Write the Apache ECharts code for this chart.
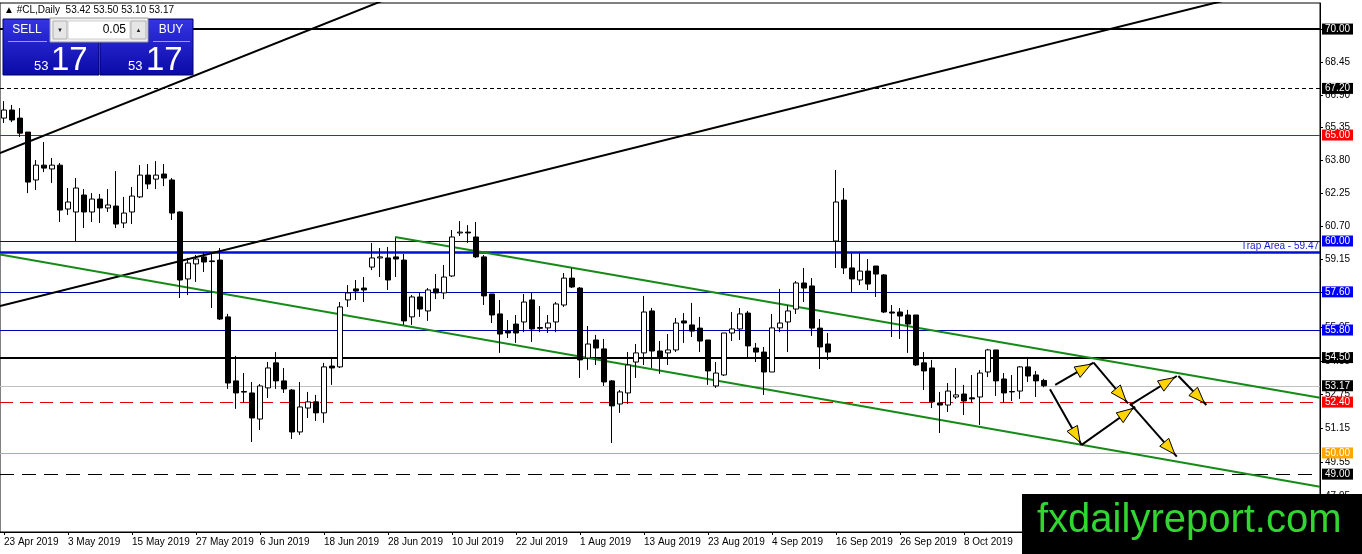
<!DOCTYPE html>
<html>
<head>
<meta charset="utf-8">
<script src="https://cdn.jsdelivr.net/npm/echarts@6.0.0/dist/echarts.min.js"></script>
<style>
html,body{margin:0;padding:0;background:#fff;}
#chart{width:1362px;height:554px;}
</style>
</head>
<body>
<div id="chart"></div>
<script>
// ---------- DATA ----------
const symbolTitle = '#CL,Daily';
const startDate = [2019, 3, 23];   // 23 Apr 2019 (first bar)
const totalSlots = 165;            // bars + empty future space

const opens = [65.80,66.18,65.80,65.14,62.88,63.58,63.40,63.58,61.51,61.37,62.17,61.37,61.98,61.56,61.65,60.85,61.37,62.08,63.11,62.92,
63.16,62.88,61.37,58.21,58.92,59.25,59.06,59.10,56.42,53.40,52.90,52.83,51.60,53.07,54.25,53.40,52.97,50.99,52.12,52.41,
51.89,54.10,54.06,57.22,57.74,57.78,58.77,59.20,59.20,59.25,59.10,56.42,57.36,56.70,57.74,57.55,58.35,60.38,60.42,60.19,
59.25,57.50,56.56,55.75,56.08,56.18,57.22,55.92,55.90,56.18,56.98,58.25,57.78,54.48,55.33,54.91,53.40,52.31,52.83,54.29,
54.72,56.70,54.81,54.72,54.86,56.23,56.04,55.89,55.33,53.16,53.68,55.66,55.85,56.60,54.95,54.76,53.82,55.90,56.18,56.79,
58.02,57.88,55.89,55.14,60.00,61.93,58.73,58.16,58.58,58.82,58.40,56.65,56.65,56.51,56.51,54.25,54.01,52.36,52.26,52.64,
52.78,52.60,52.64,53.82,54.86,53.49,52.90,52.92,54.06,53.68,53.42];
const highs = [66.60,66.42,66.27,65.14,63.82,64.67,63.92,63.68,62.50,62.97,62.45,62.26,62.22,62.45,63.30,62.08,62.55,63.58,63.63,63.77,
63.63,62.97,61.40,59.20,59.34,59.48,59.43,59.67,56.56,54.58,53.77,53.35,53.25,54.29,54.76,54.01,53.02,53.35,52.88,52.74,
54.25,54.43,57.12,57.92,58.16,58.30,59.91,59.67,59.72,60.15,59.39,57.45,57.59,57.78,58.44,58.87,60.52,60.94,60.75,60.90,
59.34,57.50,57.22,56.27,56.51,57.50,57.55,56.93,56.51,57.12,58.49,58.73,57.83,55.99,55.57,55.38,53.44,52.97,54.76,55.14,
57.41,56.84,55.28,55.61,56.37,56.60,57.08,56.42,55.33,54.29,55.66,56.65,56.84,56.70,55.19,55.00,56.56,57.74,56.98,58.11,
58.73,58.25,56.32,55.66,63.35,62.50,59.43,59.43,59.15,58.82,58.44,56.98,56.84,56.75,56.51,54.76,54.39,52.88,53.30,54.01,
53.21,53.68,53.91,54.91,54.86,53.77,53.68,54.10,54.53,53.87,53.50];
const lows = [65.57,65.61,64.91,62.26,62.41,63.25,62.74,60.90,61.23,60.00,60.61,60.90,60.85,61.37,60.61,60.61,60.80,62.03,62.45,62.45,
62.59,60.99,57.31,57.45,58.07,58.54,56.84,56.27,53.02,52.08,52.36,50.52,51.08,52.59,53.02,52.83,50.66,50.85,51.65,51.51,
51.42,53.21,54.01,56.89,57.22,57.12,58.63,58.30,57.69,58.30,56.04,56.04,56.42,56.23,57.26,57.26,58.30,60.24,59.91,59.20,
56.98,56.13,54.72,55.42,55.19,55.70,55.24,55.70,55.66,55.70,56.89,57.78,53.54,53.92,54.15,53.16,50.47,51.89,52.31,53.54,
54.15,54.01,53.73,54.15,54.76,55.19,55.47,54.76,53.21,53.07,53.63,55.28,55.33,54.48,54.29,52.74,53.82,55.70,54.76,56.56,
57.12,55.52,53.96,54.39,58.73,58.44,57.59,57.92,57.69,57.36,56.60,55.47,55.38,54.72,54.10,52.97,52.12,50.94,51.93,52.55,
51.79,52.36,51.32,53.58,52.69,52.36,52.45,52.55,53.35,52.64,53.10];
const closes = [66.18,65.71,65.09,62.78,63.58,63.44,63.58,61.46,61.84,62.50,61.37,61.98,61.56,61.70,60.80,61.32,62.12,63.11,62.69,63.11,
62.97,61.32,58.16,58.96,59.15,59.01,59.03,56.32,53.30,52.83,52.87,51.65,53.16,54.01,53.40,53.02,50.99,52.17,52.41,51.89,
54.06,54.01,56.89,57.55,57.64,57.69,59.20,59.25,58.16,59.15,56.23,57.36,56.79,57.69,57.55,58.30,60.19,60.42,60.38,59.25,
57.41,56.51,55.61,55.66,55.66,57.12,55.85,55.88,56.13,57.03,58.25,57.83,54.39,55.14,54.95,53.35,52.22,52.88,54.15,54.72,
56.65,54.81,54.53,54.86,56.13,56.13,55.75,55.28,53.87,53.77,55.66,55.85,56.56,55.05,54.76,53.82,55.90,56.13,56.70,58.02,
57.78,55.89,55.00,54.76,61.84,58.73,58.21,58.58,57.97,58.44,56.65,56.60,56.46,56.08,54.15,53.87,52.41,52.26,52.92,52.74,
52.45,52.55,53.77,54.86,53.40,52.83,52.88,54.06,53.63,53.40,53.17];

// horizontal price levels (right-hand boxed labels)
const priceLevels = [70.00, 67.20, 65.00, 60.00, 57.60, 55.80, 54.50, 53.17, 52.40, 50.00, 49.00];
const trapLevel = 59.47;
const trapText = 'Trap Area - 59.47';

// y-axis tick labels
const yTickLabels = [70.00, 68.45, 66.90, 65.35, 63.80, 62.25, 60.70, 59.15, 57.60, 55.95, 54.35, 52.75, 51.15, 49.55, 47.95];
const yMin = 46.27, yMax = 71.23;

// trend lines: [barIndex, price] pairs
const blackLine1 = [[-0.5, 64.15], [50, 71.74]];
const blackLine2 = [[-0.5, 56.93], [160, 72.05]];
const greenLower = [[-0.5, 59.36], [164.5, 48.41]];
const greenUpper = [[48.875, 60.19], [164.5, 52.60]];

// scenario arrows: [fromBar, fromPrice, toBar, toPrice]
const arrows = [
  [131.4, 53.21, 136.2, 54.26],
  [136.2, 54.26, 140.5, 52.34],
  [130.75, 53.00, 134.7, 50.38],
  [134.7, 50.38, 141.4, 52.18],
  [140.75, 52.26, 146.6, 53.63],
  [146.8, 53.63, 150.3, 52.26],
  [140.75, 52.34, 146.6, 49.83]
];

// ---------- BUILD ----------
const MONTHS = ['Jan','Feb','Mar','Apr','May','Jun','Jul','Aug','Sep','Oct','Nov','Dec'];
const categories = [];
(function(){
  const d = new Date(Date.UTC(startDate[0], startDate[1], startDate[2]));
  while (categories.length < totalSlots) {
    const wd = d.getUTCDay();
    if (wd !== 0 && wd !== 6) categories.push(d.getUTCDate() + ' ' + MONTHS[d.getUTCMonth()] + ' ' + d.getUTCFullYear());
    d.setUTCDate(d.getUTCDate() + 1);
  }
})();
const candleData = opens.map((o, i) => [o, closes[i], lows[i], highs[i]]);
const last = opens.length - 1;

const levelStyles = [
  {line:'#000000', w:2, t:'solid', box:'#000000'},
  {line:'#000000', w:1, t:[4,3], box:'#000000'},
  {line:'#d80000', w:1, t:'solid', box:'#ff0000'},
  {line:'#0000b4', w:1, t:'solid', box:'#0000ff'},
  {line:'#0000b4', w:1, t:'solid', box:'#0000ff'},
  {line:'#0000b4', w:1, t:'solid', box:'#0000ff'},
  {line:'#000000', w:2, t:'solid', box:'#000000'},
  {line:'#c0c0c0', w:1, t:'solid', box:'#000000'},
  {line:'#e00000', w:1, t:[13,7], box:'#ff0000'},
  {line:'#ffa500', w:1, t:'solid', box:'#ffa500'},
  {line:'#000000', w:1, t:[14,8], box:'#000000'}
];
const FONT = 'Liberation Sans, Arial, sans-serif';

const markData = priceLevels.map((v, i) => ({
  yAxis: v,
  lineStyle: {color: levelStyles[i].line, width: levelStyles[i].w, type: levelStyles[i].t},
  label: {
    show: true, position: 'end', distance: 2,
    formatter: v.toFixed(2),
    color: '#fff', backgroundColor: levelStyles[i].box,
    padding: [1, 3, 0, 3], fontSize: 10, fontFamily: FONT
  }
}));
markData.push({
  yAxis: trapLevel,
  lineStyle: {color: '#0010d0', width: 2.5, type: 'solid'},
  label: {show: true, position: 'insideEndTop', distance: 1, formatter: trapText, color: '#1a1acc', fontSize: 10, fontFamily: FONT}
});

function trend(data, color) {
  return {
    type: 'line', xAxisIndex: 1, yAxisIndex: 0, data: data,
    showSymbol: false, symbol: 'none', clip: true, silent: true,
    lineStyle: {color: color, width: 2}, z: 3, animation: false
  };
}

const blueGrad = {type:'linear', x:0, y:0, x2:0, y2:1, colorStops:[{offset:0,color:'#3434e4'},{offset:1,color:'#0a0aa6'}]};
const t = symbolTitle + '  ' + [opens[last], highs[last], lows[last], closes[last]].map(v => v.toFixed(2)).join(' ');
const bid = closes[last].toFixed(2).split('.');

const graphics = [
  {type:'text', x:4, y:10, z:100, style:{text:'▲ ' + t, fill:'#000', font:'10px ' + FONT, verticalAlign:'middle'}},
  {type:'rect', z:100, shape:{x:3,y:19,width:96,height:56}, style:{fill:blueGrad, stroke:'#00006a', lineWidth:1}},
  {type:'rect', z:100, shape:{x:100,y:19,width:93,height:56}, style:{fill:blueGrad, stroke:'#00006a', lineWidth:1}},
  {type:'line', z:101, shape:{x1:8,y1:41.5,x2:47,y2:41.5}, style:{stroke:'rgba(255,255,255,0.55)', lineWidth:1}},
  {type:'line', z:101, shape:{x1:153,y1:41.5,x2:190,y2:41.5}, style:{stroke:'rgba(255,255,255,0.55)', lineWidth:1}},
  {type:'text', z:101, x:27, y:30, style:{text:'SELL', fill:'#fff', font:'12px ' + FONT, align:'center', verticalAlign:'middle'}},
  {type:'text', z:101, x:171, y:30, style:{text:'BUY', fill:'#fff', font:'12px ' + FONT, align:'center', verticalAlign:'middle'}},
  {type:'rect', z:101, shape:{x:50,y:18,width:98,height:24}, style:{fill:'#f0f0f0', stroke:'#9a9a9a', lineWidth:1}},
  {type:'rect', z:102, shape:{x:53,y:21,width:14,height:18}, style:{fill:'#e6e6e6', stroke:'#b0b0b0', lineWidth:1}},
  {type:'rect', z:102, shape:{x:68,y:21,width:62,height:18}, style:{fill:'#ffffff', stroke:'#d0d0d0', lineWidth:1}},
  {type:'rect', z:102, shape:{x:131,y:21,width:15,height:18}, style:{fill:'#e6e6e6', stroke:'#b0b0b0', lineWidth:1}},
  {type:'text', z:103, x:60, y:30, style:{text:'▼', fill:'#222', font:'6px ' + FONT, align:'center', verticalAlign:'middle'}},
  {type:'text', z:103, x:138.5, y:30, style:{text:'▲', fill:'#222', font:'6px ' + FONT, align:'center', verticalAlign:'middle'}},
  {type:'text', z:103, x:126, y:30, style:{text:'0.05', fill:'#000', font:'12px ' + FONT, align:'right', verticalAlign:'middle'}},
  {type:'text', z:101, x:34, y:73, style:{text:bid[0], fill:'#fff', font:'13px ' + FONT, verticalAlign:'bottom'}},
  {type:'text', z:101, x:51, y:77, style:{text:bid[1], fill:'#fff', font:'33px ' + FONT, verticalAlign:'bottom'}},
  {type:'text', z:101, x:128, y:73, style:{text:bid[0], fill:'#fff', font:'13px ' + FONT, verticalAlign:'bottom'}},
  {type:'text', z:101, x:146, y:77, style:{text:bid[1], fill:'#fff', font:'33px ' + FONT, verticalAlign:'bottom'}},
  {type:'rect', z:100, shape:{x:1022,y:494,width:340,height:60}, style:{fill:'#000'}},
  {type:'text', z:101, x:1037, y:521, style:{text:'fxdailyreport.com', fill:'#31d631', font:'40px ' + FONT, verticalAlign:'middle'}}
];

const chart = echarts.init(document.getElementById('chart'), null, {renderer:'canvas'});
chart.setOption({
  animation: false,
  backgroundColor: '#ffffff',
  grid: {left: 0, right: 42, top: 3, bottom: 22, show: true, borderColor: '#000', borderWidth: 1, backgroundColor: 'transparent'},
  xAxis: [
    {
      type: 'category', data: categories, boundaryGap: true,
      axisLine: {show: true, onZero: false, lineStyle: {color: '#000'}},
      axisTick: {show: true, interval: 7, alignWithLabel: true, length: 3, lineStyle: {color: '#000'}},
      axisLabel: {interval: 7, align: 'left', margin: 5, color: '#000', fontSize: 10, fontFamily: FONT},
      splitLine: {show: false}
    },
    {type: 'value', min: -0.5, max: totalSlots - 0.5, show: false}
  ],
  yAxis: {
    type: 'value', position: 'right', min: yMin, max: yMax, scale: true,
    splitLine: {show: false},
    axisLine: {show: true, onZero: false, lineStyle: {color: '#000'}},
    axisTick: {show: true, length: 3, customValues: yTickLabels, lineStyle: {color: '#000'}},
    axisLabel: {customValues: yTickLabels, formatter: v => v.toFixed(2), color: '#000', fontSize: 10, fontFamily: FONT, margin: 5}
  },
  series: [
    trend(blackLine1, '#000000'),
    trend(blackLine2, '#000000'),
    trend(greenLower, '#168a16'),
    trend(greenUpper, '#168a16'),
    {
      type: 'candlestick', xAxisIndex: 0, yAxisIndex: 0, data: candleData,
      barWidth: 5, z: 5,
      itemStyle: {color: '#ffffff', color0: '#000000', borderColor: '#000000', borderColor0: '#000000', borderWidth: 1},
      markLine: {symbol: 'none', silent: true, animation: false, data: markData, z: 2}
    },
    {
      type: 'custom', xAxisIndex: 1, yAxisIndex: 0, data: arrows, z: 6,
      encode: {x: [0, 2], y: [1, 3]},
      renderItem: function (params, api) {
        const p1 = api.coord([api.value(0), api.value(1)]);
        const p2 = api.coord([api.value(2), api.value(3)]);
        const dx = p2[0] - p1[0], dy = p2[1] - p1[1];
        const len = Math.sqrt(dx*dx + dy*dy);
        const ux = dx/len, uy = dy/len;
        const tip = [p2[0] - ux*3, p2[1] - uy*3];
        const base = [tip[0] - ux*16, tip[1] - uy*16];
        const nx = -uy*6, ny = ux*6;
        return {
          type: 'group',
          children: [
            {type: 'line', shape: {x1: p1[0], y1: p1[1], x2: p2[0], y2: p2[1]}, style: {stroke: '#000', lineWidth: 2}},
            {type: 'polygon', shape: {points: [tip, [base[0]+nx, base[1]+ny], [base[0]-nx, base[1]-ny]]},
             style: {fill: '#ffd400', stroke: '#000', lineWidth: 1}}
          ]
        };
      }
    }
  ],
  graphic: graphics
});
</script>
</body>
</html>
